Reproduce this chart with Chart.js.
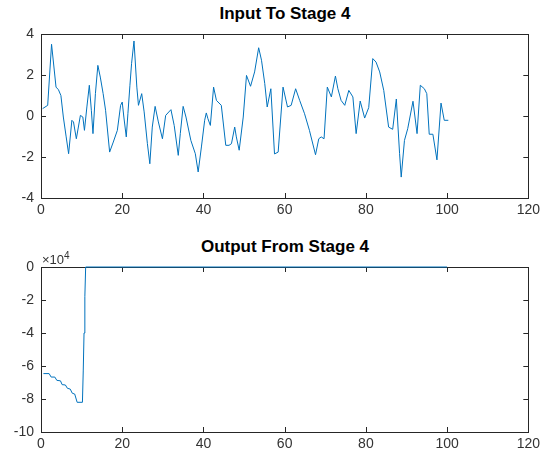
<!DOCTYPE html>
<html>
<head>
<meta charset="utf-8">
<script src="https://cdn.jsdelivr.net/npm/chart.js@4"></script>
<style>
  body { margin: 0; background: #fff; font-family: "Liberation Sans", Arial, sans-serif; }
  #wrap { position: relative; width: 544px; height: 455px; }
  canvas { position: absolute; left: 0; }
  .title { position: absolute; left: 41px; width: 488px; text-align: center; font-weight: bold; font-size: 17px; line-height: 18px; color: #000; }
  .expo { position: absolute; left: 42px; top: 250px; font-size: 13px; color: #333; }
  .expo sup { font-size: 10px; }
</style>
</head>
<body>
<div id="wrap">
  <div class="title" style="top:5px">Input To Stage 4</div>
  <canvas id="topChart" width="544" height="230" style="top:0"></canvas>
  <div class="title" style="top:238px">Output From Stage 4</div>
  <canvas id="bottomChart" width="544" height="225" style="top:230px"></canvas>
  <div class="expo">&times;10<sup>4</sup></div>
</div>
<script>
// input signal
const inputX = [0.4, 1.65, 2.6, 3.7, 4.3, 4.9, 5.5, 6.2, 6.8, 7.6, 8.0, 8.7, 9.7, 10.3, 10.7, 11.3, 11.9, 12.4, 12.8, 13.4,
  14.0, 14.6, 15.3, 15.9, 16.9, 17.8, 18.8, 19.6, 20.0, 20.4, 21.0, 21.4, 21.9, 22.3, 22.9, 23.6, 24.0, 24.8, 25.4, 26.2,
  26.8, 27.4, 28.1, 28.9, 29.9, 30.7, 32.0, 32.8, 33.8, 34.3, 35.0, 35.7, 36.9, 38.0,
  38.7, 39.5, 40.3, 40.7, 41.1, 41.7, 42.5, 43.2, 44.4, 45.5, 46.3, 46.9, 47.7, 48.1, 48.8, 49.8, 50.6, 51.6, 52.6, 53.6,
  54.3, 55.1, 55.7, 56.6, 57.5, 58.4, 59.6, 60.7, 61.6, 62.7, 63.7, 64.9, 66.1, 67.6, 68.4, 69.0, 69.7, 70.5, 71.5, 72.5,
  73.1, 73.9, 74.8, 75.8, 76.8, 77.6,
  78.6, 79.7, 80.7, 81.7, 82.5, 83.4, 84.4, 85.6, 86.6, 87.5, 88.3, 88.7, 89.5, 90.3, 91.6, 92.6, 93.4, 94.4, 95.0, 95.6,
  96.5, 97.5, 98.5, 99.3, 100.3];
const inputY = [0.36, 0.52, 3.5, 1.41, 1.28, 1.0, -0.05, -1.02, -1.84, -0.21, -0.29, -1.11, 0.03, -0.05, -0.7, 0.44, 1.5, 0.28, -0.86, 1.09,
  2.47, 1.9, 1.09, 0.28, -1.76, -1.27, -0.7, 0.52, 0.68, -0.05, -1.02, 0.11, 1.5, 2.55, 3.66, 1.41, 0.52, 1.09, 0.2, -1.35,
  -2.33, -0.54, 0.47, -0.29, -1.11, 0.03, 0.31, -0.46, -1.92, -0.86, 0.47, -0.05, -1.19, -1.84,
  -2.73, -1.51, -0.21, 0.15, -0.13, -0.46, 1.41, 0.76, 0.52, -1.43, -1.43, -1.35, -0.54, -1.02, -1.67, -0.05, 1.98, 1.45, 2.15, 3.33,
  2.72, 1.58, 0.44, 1.33, -1.85, -1.76, 1.41, 0.44, 0.52, 1.33, 0.76, 0.11, -0.7, -1.89, -1.11, -1.02, -1.11, 1.41, 0.93, 1.95,
  1.33, 0.76, 0.52, 1.25, 0.93, -0.86,
  0.73, -0.1, 0.41, 2.8, 2.63, 2.15, 1.25, -0.54, -0.65, 0.83, -1.84, -2.98, -1.19, -0.62, 0.72, -0.86, 1.5, 1.33, 1.09, -0.89,
  -0.89, -2.14, 0.63, -0.21, -0.21];

// output of stage 4 (raw values, axis shows them x 1e4)
const outputX = [0.6, 2.0, 2.5, 3.4, 3.9, 4.8, 5.2, 6.0, 6.5, 7.2, 7.7, 8.3, 8.9, 10.2, 10.4, 10.6, 10.8, 11.0, 100];
const outputY = [-64600, -64600, -66700, -66700, -68700, -69000, -71300, -71500, -73500, -74000, -76500, -77000, -82000, -82000,
  -63000, -40000, -18000, 0, 0];

const xTicks = [0, 20, 40, 60, 80, 100, 120];
const inputTicks = [-4, -2, 0, 2, 4];
const outputTicks = [-100000, -80000, -60000, -40000, -20000, 0];

const lineColor = '#0072BD';
const axisColor = '#262626';
const labelColor = '#333';

// MATLAB-style box with inward ticks on all four sides
const boxTicks = {
  id: 'boxTicks',
  beforeDatasetsDraw(chart) {
    const { ctx, chartArea: a, scales } = chart;
    const tl = 5;
    ctx.save();
    ctx.strokeStyle = axisColor;
    ctx.lineWidth = 1;
    ctx.strokeRect(Math.round(a.left) + 0.5, Math.round(a.top) + 0.5, Math.round(a.right - a.left), Math.round(a.bottom - a.top));
    ctx.beginPath();
    scales.x.ticks.forEach(t => {
      const px = Math.round(scales.x.getPixelForValue(t.value)) + 0.5;
      ctx.moveTo(px, a.bottom); ctx.lineTo(px, a.bottom - tl);
      ctx.moveTo(px, a.top); ctx.lineTo(px, a.top + tl);
    });
    scales.y.ticks.forEach(t => {
      const py = Math.round(scales.y.getPixelForValue(t.value)) + 0.5;
      ctx.moveTo(a.left, py); ctx.lineTo(a.left + tl, py);
      ctx.moveTo(a.right, py); ctx.lineTo(a.right - tl, py);
    });
    ctx.stroke();
    ctx.restore();
  }
};

const makeChart = (id, xs, ys, yTicks, topPad, xHeight, fmt) => {
  const points = xs.map((x, i) => ({ x: x, y: ys[i] }));
  return new Chart(document.getElementById(id), {
    type: 'line',
    data: {
      datasets: [{
        data: points,
        borderColor: lineColor,
        borderWidth: 1,
        pointRadius: 0,
        tension: 0,
        fill: false,
        clip: 3
      }]
    },
    options: {
      responsive: false,
      animation: false,
      layout: { padding: { left: 0, right: 15, top: topPad, bottom: 0 } },
      plugins: { legend: { display: false }, tooltip: { enabled: false } },
      scales: {
        x: {
          type: 'linear',
          min: xTicks[0],
          max: xTicks[xTicks.length - 1],
          afterBuildTicks: s => { s.ticks = xTicks.map(v => ({ value: v })); },
          ticks: { color: labelColor, font: { family: '"Liberation Sans", Arial', size: 14 }, padding: 4, maxRotation: 0, autoSkip: false },
          grid: { display: false, drawTicks: false },
          border: { display: false },
          afterFit: s => { s.height = xHeight; }
        },
        y: {
          type: 'linear',
          min: yTicks[0],
          max: yTicks[yTicks.length - 1],
          afterBuildTicks: s => { s.ticks = yTicks.map(v => ({ value: v })); },
          ticks: { color: labelColor, font: { family: '"Liberation Sans", Arial', size: 14 }, padding: 7, callback: fmt },
          grid: { display: false, drawTicks: false },
          border: { display: false },
          afterFit: s => { s.width = 41; }
        }
      }
    },
    plugins: [boxTicks]
  });
};

makeChart('topChart', inputX, inputY, inputTicks, 34, 32, v => v);
makeChart('bottomChart', outputX, outputY, outputTicks, 37, 23, v => v / 10000);
</script>
</body>
</html>
